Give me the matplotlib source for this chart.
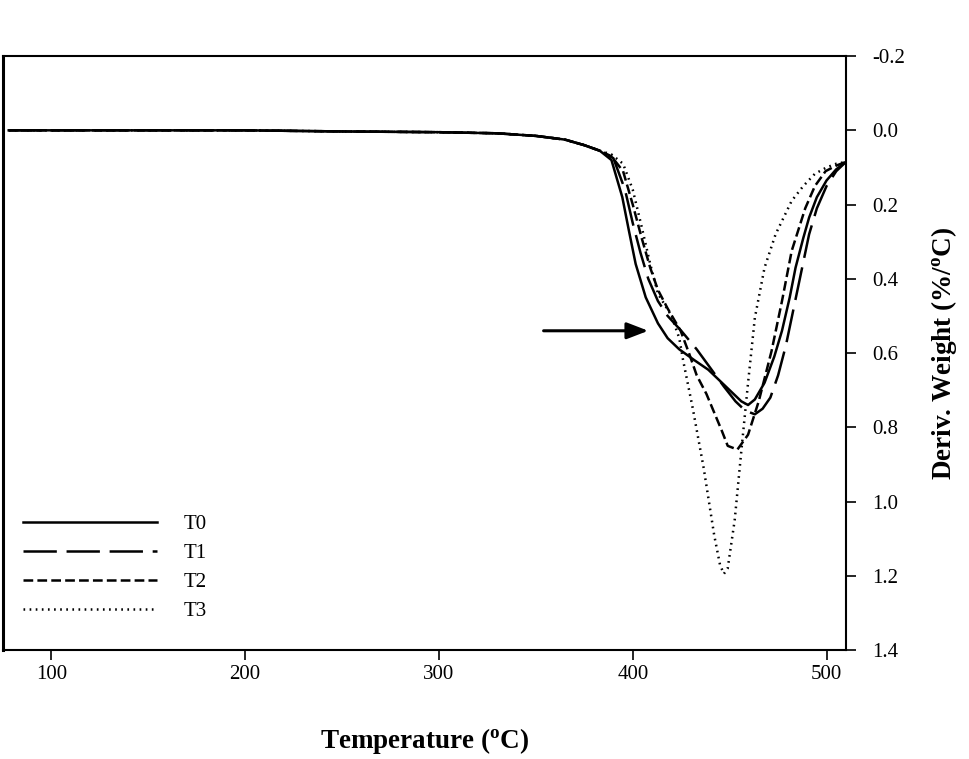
import numpy as np
import matplotlib.pyplot as plt

plt.rcParams["font.family"] = ["Liberation Serif", "DejaVu Serif"]
plt.rcParams["lines.scale_dashes"] = False

# shared flat region before decomposition (deg C, %/C)
base_temp = [78, 150, 200, 250, 300, 330, 350, 365, 375, 383]
base_val = [0.0, 0.0, 0.0, 0.003, 0.005, 0.008, 0.015, 0.025, 0.04, 0.055]

t0_temp = [389, 394.6, 398, 401.5, 406.7, 413, 418, 424, 432, 439, 446, 452, 456,
           459.5, 463, 468, 473, 477, 481, 484, 488, 491, 495, 500, 505, 510]
t0_val = [0.08, 0.18, 0.27, 0.36, 0.45, 0.52, 0.56, 0.59, 0.62, 0.645, 0.68,
          0.71, 0.73, 0.74, 0.725, 0.68, 0.61, 0.54, 0.45, 0.37, 0.29, 0.235, 0.18,
          0.135, 0.105, 0.085]

t1_temp = [390, 396, 400, 404, 408, 413, 418, 425, 433, 440, 447, 453, 458,
           463, 467, 471, 475, 479, 483, 487, 491, 495, 500, 505, 510]
t1_val = [0.075, 0.16, 0.25, 0.33, 0.40, 0.46, 0.50, 0.54, 0.59, 0.64, 0.69,
          0.73, 0.755, 0.765, 0.75, 0.72, 0.66, 0.58, 0.48, 0.38, 0.28, 0.21, 0.15,
          0.11, 0.085]

t2_temp = [389, 395, 400, 404.6, 409, 413, 418, 424.7, 429, 433, 438, 442, 446, 449,
           454, 459.5, 465, 471.6, 477, 482, 489, 494, 499.5, 505, 510]
t2_val = [0.07, 0.11, 0.2, 0.29, 0.37, 0.43, 0.48, 0.54, 0.6, 0.66, 0.71, 0.76, 0.81,
          0.85, 0.86, 0.82, 0.73, 0.595, 0.46, 0.325, 0.21, 0.15, 0.11, 0.095, 0.085]

t3_temp = [389, 395, 400, 404.6, 409, 413, 420, 424, 426, 431, 436.6, 442, 445, 447,
           449, 452.6, 456, 459.5, 463, 468, 473.7, 482, 488, 494, 500, 505, 510]
t3_val = [0.065, 0.09, 0.16, 0.26, 0.36, 0.44, 0.50, 0.56, 0.62, 0.75, 0.91, 1.09,
          1.17, 1.195, 1.18, 1.05, 0.865, 0.68, 0.505, 0.37, 0.28, 0.19, 0.15, 0.117,
          0.1, 0.09, 0.085]

labels = ["T0", "T1", "T2", "T3"]
y_ticks = [-0.2, 0.0, 0.2, 0.4, 0.6, 0.8, 1.0, 1.2, 1.4]
x_ticks = [100, 200, 300, 400, 500]

series = [(t0_temp, t0_val), (t1_temp, t1_val), (t2_temp, t2_val), (t3_temp, t3_val)]
styles = [
    dict(linestyle="-"),
    dict(dashes=(24, 7)),
    dict(dashes=(7, 3)),
    dict(dashes=(1.2, 3.2)),
]

fig = plt.figure(figsize=(9.69, 7.59), dpi=100)
ax = fig.add_axes([0.003, 0.1436, 0.870, 0.7825])

for (tt, vv), lab, st in zip(series, labels, styles):
    x = np.array(base_temp + tt)
    y = np.array(base_val + vv)
    ax.plot(x, y, color="black", linewidth=1.8, label=lab, **st)

ax.set_xlim(75, 510)
ax.set_ylim(1.4, -0.2)
ax.set_xticks(x_ticks)
ax.set_yticks(y_ticks)
ax.set_yticklabels([f"{v:.1f}" for v in y_ticks])
ax.yaxis.tick_right()
ax.yaxis.set_label_position("right")
ax.tick_params(axis="both", direction="out", length=7, width=1.2, labelsize=15,
               pad=4)
ax.tick_params(axis="y", pad=12)
for sp in ax.spines.values():
    sp.set_linewidth(1.5)
ax.spines["left"].set_linewidth(2.2)

ax.set_xlabel("Temperature ($\\mathregular{^o}$C)", fontsize=19.5, fontweight="bold",
              labelpad=30)
ax.set_ylabel("Deriv. Weight (%/$\\mathregular{^o}$C)", fontsize=19.5, fontweight="bold",
              labelpad=17)

ax.annotate("", xy=(408, 0.54), xytext=(354, 0.54),
            arrowprops=dict(arrowstyle="-|>,head_length=1.3,head_width=0.5",
                            color="black", lw=2.2, shrinkA=0, shrinkB=0))

ax.legend(loc="lower left", bbox_to_anchor=(0.002, 0.017), frameon=False,
          fontsize=15, handlelength=6.4, handletextpad=1.3, labelspacing=0.45)

fig.savefig("out.png", dpi=100)
